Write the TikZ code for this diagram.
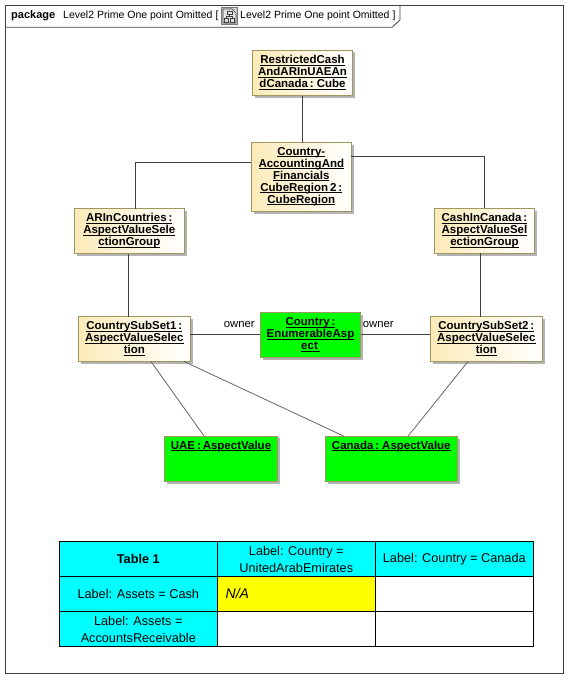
\documentclass[tikz,border=0pt]{standalone}
\usepackage{fontspec}
\setmainfont{Liberation Sans}
\newfontfamily\objfont[WordSpace=0.6]{Liberation Sans}
\usetikzlibrary{shadows}
\definecolor{boxedge}{HTML}{A09660}
\definecolor{boxcream}{HTML}{FCEBB8}
\definecolor{shadowgrey}{HTML}{B4B4B4}
\definecolor{linegrey}{HTML}{404040}
\definecolor{diaggrey}{HTML}{666666}
\definecolor{puregreen}{HTML}{00FF00}
\definecolor{purecyan}{HTML}{00FFFF}
\definecolor{pureyellow}{HTML}{FFFF00}
\definecolor{iconbg}{HTML}{D0D0D0}
\newcommand{\un}[1]{\underline{\smash{#1}}}
\tikzset{
  objbase/.style={draw=boxedge,line width=0.9pt,inner sep=0pt,outer sep=0pt,align=center,
    font=\objfont\fontsize{11.5}{12}\selectfont\bfseries,
    general shadow={shadow xshift=2.3pt,shadow yshift=-2.3pt,fill=shadowgrey,draw=none}},
  cream/.style={objbase,left color=boxcream,right color=white},
  greenbox/.style={objbase,fill=puregreen},
  threelines/.style={text height=37pt,text depth=8pt},
  fivelines/.style={text height=60.3pt,text depth=8.3pt},
  oneline/.style={text height=13pt,text depth=32.6pt},
  conn/.style={draw=linegrey,line width=0.8pt},
  diag/.style={draw=diaggrey,line width=0.8pt},
  lbl/.style={font=\fontsize{11}{12}\selectfont,inner sep=0pt},
  cell/.style={draw=black,line width=0.9pt,minimum width=158pt,minimum height=35pt,inner sep=0pt,outer sep=0pt,
    align=center,font=\fontsize{12.7}{17}\selectfont},
  head/.style={cell,fill=purecyan},
}
\begin{document}
\begin{tikzpicture}[x=1pt,y=-1pt]
\useasboundingbox (0,0) rectangle (578,688);
\fill[white] (0,0) rectangle (578,688);
% frame
\draw[conn] (5.5,5.5) rectangle (563.3,673.3);
\draw[conn] (5.5,27.3) -- (392,27.3) -- (400,20) -- (400,5.5);
\node[lbl,anchor=base west,font=\fontsize{11}{12}\selectfont\bfseries] (pk) at (11,19) {package};
\node[lbl,anchor=base west,font=\fontsize{10.5}{12}\selectfont] (t1) at (63,19) {Level2 Prime One point Omitted [};
\node[lbl,anchor=base west,font=\fontsize{10.5}{12}\selectfont] (t2) at (240,19) {Level2 Prime One point Omitted ]};
% icon
\draw[linegrey!70,line width=0.6pt,fill=iconbg] (221,7.5) rectangle (237.5,24);
\draw[linegrey,line width=0.6pt,fill=iconbg!60] (223,9) -- (232,9) -- (236,13) -- (236,23) -- (223,23) -- cycle;
\draw[linegrey,line width=0.6pt] (227,11) rectangle (232,14.5);
\draw[linegrey,line width=0.6pt] (224.5,18.5) rectangle (228.5,22);
\draw[linegrey,line width=0.6pt] (230.5,18.5) rectangle (234.5,22);
\draw[linegrey,line width=0.6pt] (229.5,14.5) -- (229.5,16.5) (226.5,18.5) -- (226.5,16.5) -- (232.5,16.5) -- (232.5,18.5);
% objects
\node[cream,threelines,minimum width=100pt,minimum height=45.6pt] (restricted) at (302.5,72.8)
  {\un{RestrictedCash}\\\un{AndARInUAEAn}\\\un{dCanada : Cube}};
\node[cream,fivelines,minimum width=100pt,minimum height=68.6pt] (region) at (301.3,177)
  {\un{Country-}\\\un{AccountingAnd}\\\un{Financials}\\\un{CubeRegion 2 :}\\\un{CubeRegion}};
\node[cream,threelines,minimum width=110pt,minimum height=44.6pt] (arin) at (129.3,231)
  {\un{ARInCountries :}\\\un{AspectValueSele}\\\un{ctionGroup}};
\node[cream,threelines,minimum width=99.6pt,minimum height=45pt] (cash) at (484.5,230.8)
  {\un{CashInCanada :}\\\un{AspectValueSel}\\\un{ectionGroup}};
\node[cream,threelines,minimum width=112pt,minimum height=44.6pt] (sub1) at (134.3,339)
  {\un{CountrySubSet1 :}\\\un{AspectValueSelec}\\\un{tion}};
\node[cream,threelines,minimum width=112pt,minimum height=44.6pt] (sub2) at (486.3,339)
  {\un{CountrySubSet2 :}\\\un{AspectValueSelec}\\\un{tion}};
\node[greenbox,threelines,minimum width=100.4pt,minimum height=45pt] (country) at (310.5,335.2)
  {\un{Country :}\\\un{EnumerableAsp}\\\un{ect\ }};
\node[greenbox,oneline,minimum width=113.4pt,minimum height=45.7pt] (uae) at (221,458.8)
  {\un{UAE : AspectValue}};
\node[greenbox,oneline,minimum width=132pt,minimum height=45.4pt] (canada) at (391.3,459)
  {\un{Canada : AspectValue}};
% connectors
\draw[conn] (restricted.south) -- (restricted.south |- region.north);
\draw[conn] ([yshift=14.7pt]region.west) -| ([xshift=6pt]arin.north);
\draw[conn] ([yshift=20.3pt]region.east) -| (cash.north);
\draw[conn] ([xshift=-1pt]arin.south) -- ([xshift=-6pt]sub1.north);
\draw[conn] ([xshift=-4.2pt]cash.south) -- ([xshift=-6pt]sub2.north);
\draw[conn] ([yshift=4.7pt]sub1.east) -- ([yshift=0.9pt]country.west);
\draw[conn] ([yshift=0.9pt]country.east) -- ([yshift=4.7pt]sub2.west);
\draw[diag] ([xshift=16.7pt]sub1.south) -- ([xshift=-17pt]uae.north);
\draw[diag] ([xshift=49.7pt]sub1.south) -- ([xshift=-47.3pt]canada.north);
\draw[diag] ([xshift=-18.3pt]sub2.south) -- ([xshift=16.7pt]canada.north);
\node[lbl,font=\fontsize{11.3}{12}\selectfont] (own1) at (239.3,325) {owner};
\node[lbl,font=\fontsize{11.3}{12}\selectfont] (own2) at (378.3,325) {owner};
% table
\node[head,font=\fontsize{12.7}{17}\selectfont\bfseries] (c11) at (138.3,559) {Table 1};
\node[head] (c12) at (296.3,559) {Label: Country =\\UnitedArabEmirates};
\node[head] (c13) at (454.3,559) {Label: Country = Canada};
\node[head] (c21) at (138.3,594) {Label: Assets = Cash};
\node[cell,fill=pureyellow] (c22) at (296.3,594) {};
\node[cell] (c23) at (454.3,594) {};
\node[head] (c31) at (138.3,629) {Label: Assets =\\AccountsReceivable};
\node[cell] (c32) at (296.3,629) {};
\node[cell] (c33) at (454.3,629) {};
\node[anchor=base west,inner sep=0pt,font=\fontsize{14}{16}\selectfont\itshape] (na) at (225.5,598) {N/A};
\end{tikzpicture}
\end{document}
